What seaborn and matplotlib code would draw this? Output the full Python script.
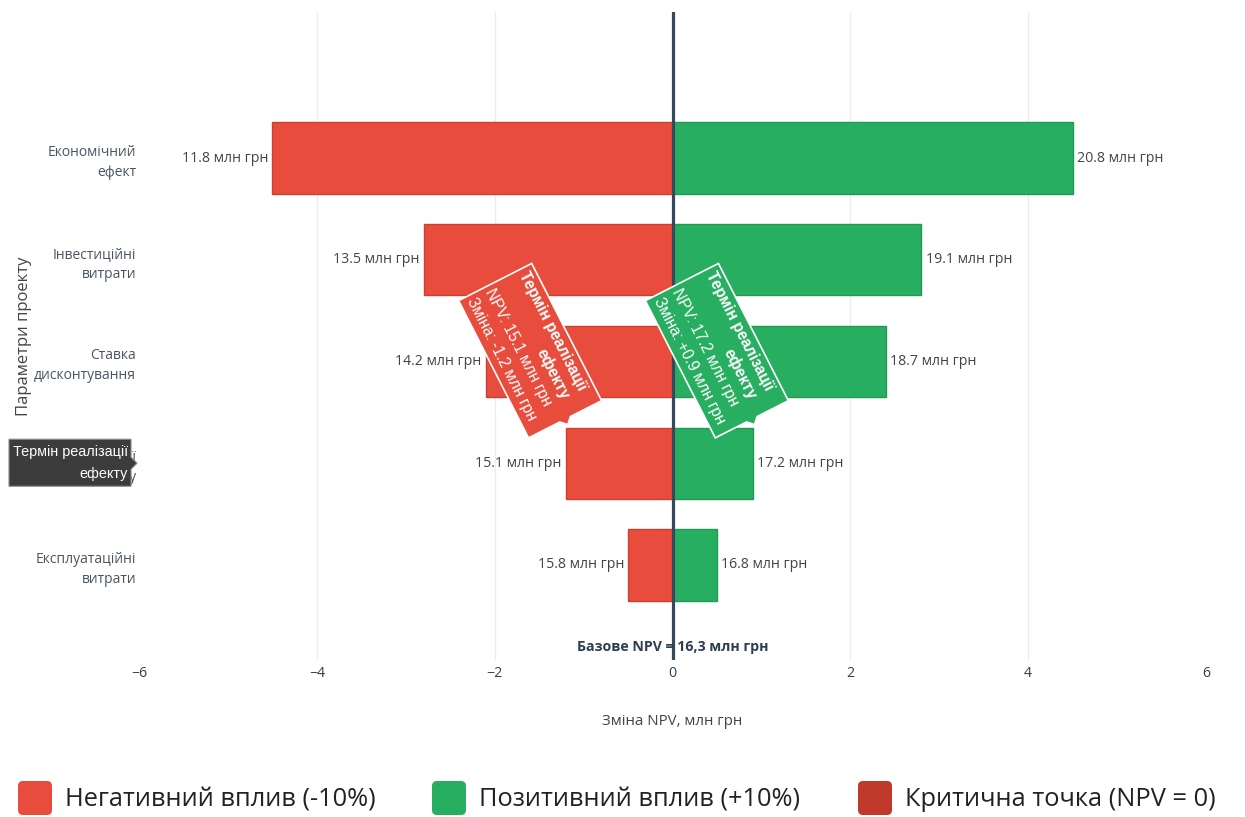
import numpy as np
import pandas as pd
import matplotlib
matplotlib.use("Agg")
import matplotlib.pyplot as plt
import seaborn as sns
from matplotlib.patches import FancyBboxPatch, Polygon

# --- data -------------------------------------------------------------
params = ["Економічний\nефект", "Інвестиційні\nвитрати", "Ставка\nдисконтування",
          "Термін реалізації\nефекту", "Експлуатаційні\nвитрати"]
npv_low = [11.8, 13.5, 14.2, 15.1, 15.8]     # NPV at -10 %
npv_high = [20.8, 19.1, 18.7, 17.2, 16.8]    # NPV at +10 %
base_npv = 16.3
x_ticks = [-6, -4, -2, 0, 2, 4, 6]
neg_label = "Негативний вплив (-10%)"
pos_label = "Позитивний вплив (+10%)"
crit_label = "Критична точка (NPV = 0)"
highlight = "Термін реалізації\nефекту"

neg_change = [round(v - base_npv, 1) for v in npv_low]
pos_change = [round(v - base_npv, 1) for v in npv_high]

df = pd.DataFrame({
    "param": params * 2,
    "change": neg_change + pos_change,
    "npv": npv_low + npv_high,
    "effect": [neg_label] * len(params) + [pos_label] * len(params),
})

RED, GREEN, DARKRED = "#e74c3c", "#27ae60", "#c0392b"
INK = "#2c3e50"

sns.set_theme(style="white")
plt.rcParams["font.family"] = ["Open Sans", "DejaVu Sans"]

W_PX, H_PX = 1245, 817
fig = plt.figure(figsize=(W_PX / 100, H_PX / 100), dpi=100)
ax = fig.add_axes([139 / W_PX, 1 - 660 / H_PX, (1206 - 139) / W_PX, (660 - 12) / H_PX])

sns.barplot(data=df, y="param", x="change", hue="effect", dodge=False,
            palette={neg_label: RED, pos_label: GREEN}, width=0.7,
            orient="h", ax=ax, legend=False, saturation=1)

edge = {neg_label: "#cf3f31", pos_label: "#229a54"}
for cont, lab in zip(ax.containers, [neg_label, pos_label]):
    for bar in cont:
        bar.set_edgecolor(edge[lab])
        bar.set_linewidth(1.0)
    vals = df.loc[df["effect"] == lab, "npv"].tolist()
    ax.bar_label(cont, labels=[f"{v:.1f} млн грн" for v in vals], padding=3,
                 fontsize=10.2, color="#444444")

ax.set_xlim(-6, 6)
ax.set_ylim(4.934, -1.435)
ax.set_xticks(x_ticks)
ax.set_xticklabels([f"{t}".replace("-", "\u2212") for t in x_ticks], fontsize=10.2, color=INK)
ax.tick_params(axis="x", length=0, pad=4)
ax.tick_params(axis="y", length=0, pad=2)
for t in ax.get_yticklabels():
    t.set_fontsize(10)
    t.set_color("#4a5563")
    t.set_linespacing(1.45)
    t.set_horizontalalignment("right")
for s in ax.spines.values():
    s.set_visible(False)
ax.grid(False)
for t in x_ticks:
    if t not in (0, x_ticks[0], x_ticks[-1]):
        ax.axvline(t, color="#ececec", lw=1, zorder=0)
ax.axvline(0, color="#34495e", lw=2.3, zorder=4)
ax.set_xlabel("Зміна NPV, млн грн", fontsize=10.8, color="#444444", labelpad=24)
ax.set_ylabel("Параметри проекту", fontsize=12, color="#444444", labelpad=0)
ax.yaxis.set_label_coords(-0.1005, 0.5)

base_txt = f"{base_npv:.1f}".replace(".", ",")
ax.text(0, 4.81, f"Базове NPV = {base_txt} млн грн", ha="center", va="center",
        fontsize=10.2, fontweight="bold", color=INK, zorder=5)

# --- overlay in pixel coordinates (y grows downward) -------------------
ov = fig.add_axes([0, 0, 1, 1])
ov.set_xlim(0, W_PX)
ov.set_ylim(H_PX, 0)
ov.axis("off")
ov.set_zorder(10)
ov.patch.set_alpha(0)


def to_px(x, y):
    px, py = ax.transData.transform((x, y))
    return np.array([px, H_PX - py])


renderer = fig.canvas.get_renderer()
HOVER_FONT = ["Liberation Sans", "DejaVu Sans"]


def callout(tip, color, title, lines):
    th = np.deg2rad(63)
    u = np.array([np.cos(th), np.sin(th)])
    v = np.array([np.sin(th), -np.cos(th)])
    bw, bh, p = 154, 82, 6
    local = [(-p, bh / 2), (-p, 6), (0, 0), (-p, -6), (-p, -bh / 2),
             (-p - bw, -bh / 2), (-p - bw, bh / 2)]
    pts = [tip + lx * u + ly * v for lx, ly in local]
    ov.add_patch(Polygon(pts, closed=True, fc=color, ec="white", lw=1.2, zorder=11))
    x0 = -p - bw + 4
    t1, t2 = title.split("\n")
    fs = 11.2
    tmp = ov.text(0, 0, t1, fontsize=fs, fontweight="bold", family=HOVER_FONT)
    w1 = tmp.get_window_extent(renderer).width
    tmp.remove()
    kw = dict(rotation=-63, rotation_mode="anchor", va="center", color="white",
              fontsize=fs, family=HOVER_FONT, zorder=12)
    pos = tip + x0 * u + 29 * v
    ov.text(pos[0], pos[1], t1, ha="left", fontweight="bold", **kw)
    pos = tip + (x0 + w1) * u + 10 * v
    ov.text(pos[0], pos[1], t2, ha="right", fontweight="bold", **kw)
    for ly, s in zip([-9.5, -29], lines):
        pos = tip + x0 * u + ly * v
        ov.text(pos[0], pos[1], s, ha="left", **kw)


i = params.index(highlight)
for val, npv, col in [(neg_change[i], npv_low[i], RED), (pos_change[i], npv_high[i], GREEN)]:
    tip = to_px(val, i - 0.35) + np.array([2, -3])
    callout(tip, col, highlight,
            [f"NPV: {npv:.1f} млн грн", f"Зміна: {val:+.1f} млн грн"])

# hover box on the highlighted category label
cy = to_px(0, i)[1]
ax_left = to_px(-6, i)[0]
bx1 = ax_left - 8
ov.add_patch(Polygon([(9, cy - 24), (bx1, cy - 24), (bx1, cy - 6), (bx1 + 6, cy),
                      (bx1, cy + 6), (bx1, cy + 23), (9, cy + 23)], closed=True,
                     fc="#3c3c3c", ec="#8a8a8a", lw=0.8, zorder=11))
ov.text(bx1 - 3, cy - 11, highlight.split("\n")[0], ha="right", va="center",
        color="white", fontsize=10.4, family=HOVER_FONT, zorder=12)
ov.text(bx1 - 3, cy + 11, highlight.split("\n")[1], ha="right", va="center",
        color="white", fontsize=10.4, family=HOVER_FONT, zorder=12)

# legend
leg_items = [(neg_label, RED, 18), (pos_label, GREEN, 432), (crit_label, DARKRED, 858)]
for lab, col, lx in leg_items:
    ov.add_patch(FancyBboxPatch((lx + 3, 784), 28, 28,
                                boxstyle="round,pad=3,rounding_size=5",
                                fc=col, ec="none", zorder=11))
    ov.text(lx + 47, 800, lab, ha="left", va="center", fontsize=18.3,
            color="#222222", zorder=12)

fig.savefig("out.png", dpi=100)
